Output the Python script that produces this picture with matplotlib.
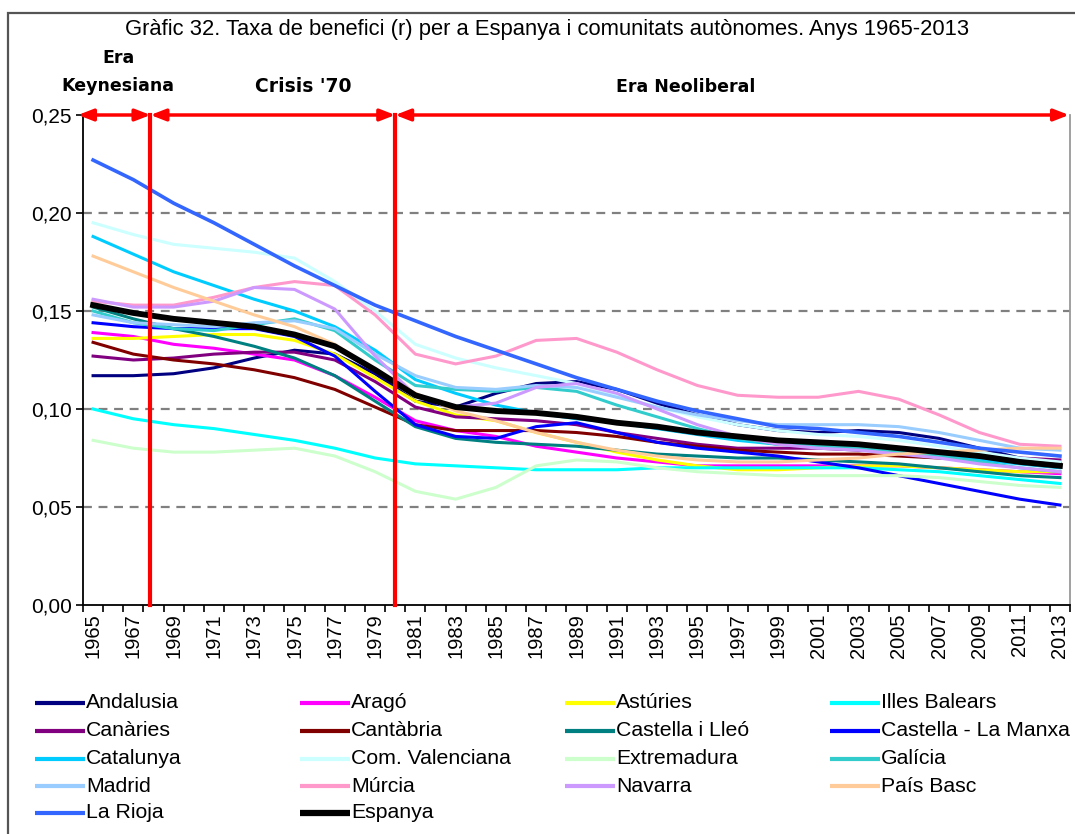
"""Taxa de benefici (r) per a Espanya i comunitats autonomes, 1965-2013."""

import matplotlib

matplotlib.use("Agg")
import matplotlib.pyplot as plt
from matplotlib.lines import Line2D
from matplotlib.patches import Rectangle

plt.rcParams["font.family"] = ["Liberation Sans", "DejaVu Sans"]

YEARS = list(range(1965, 2014, 2))

ANDALUSIA = [.117, .117, .118, .121, .126, .130, .128, .118, .104, .101, .108, .113, .114,
             .110, .103, .097, .092, .089, .088, .089, .088, .085, .080, .075, .072]
ARAGO = [.139, .137, .133, .131, .128, .125, .117, .106, .094, .089, .086, .081, .078,
         .075, .073, .071, .071, .071, .071, .071, .071, .070, .069, .068, .067]
ASTURIES = [.136, .136, .137, .138, .138, .135, .128, .116, .104, .097, .094, .088, .083,
            .078, .074, .071, .069, .069, .070, .071, .071, .070, .069, .068, .068]
BALEARS = [.100, .095, .092, .090, .087, .084, .080, .075, .072, .071, .070, .069, .069,
           .069, .070, .070, .070, .070, .070, .070, .069, .068, .066, .064, .062]
CANARIES = [.127, .125, .126, .128, .129, .129, .125, .114, .101, .096, .095, .094, .092,
            .088, .085, .082, .080, .080, .080, .079, .078, .077, .076, .075, .074]
CANTABRIA = [.134, .128, .125, .123, .120, .116, .110, .101, .092, .089, .089, .089, .088,
             .086, .083, .081, .079, .078, .077, .077, .076, .075, .074, .073, .072]
CAST_LLEO = [.152, .146, .141, .137, .132, .126, .117, .104, .091, .085, .083, .082, .081,
             .079, .077, .076, .075, .075, .074, .073, .072, .070, .068, .066, .065]
CAST_MANXA = [.144, .142, .141, .141, .141, .137, .127, .109, .092, .086, .085, .091, .093,
              .088, .083, .080, .078, .076, .073, .070, .066, .062, .058, .054, .051]
CATALUNYA = [.188, .179, .170, .163, .156, .150, .142, .130, .115, .108, .102, .098, .095,
             .093, .090, .087, .084, .082, .081, .080, .078, .076, .074, .072, .070]
VALENCIANA = [.195, .189, .184, .182, .180, .177, .165, .150, .133, .126, .121, .117, .113,
              .107, .101, .096, .092, .089, .087, .086, .084, .081, .078, .075, .073]
EXTREMADURA = [.084, .080, .078, .078, .079, .080, .076, .068, .058, .054, .060, .071, .074,
               .073, .070, .068, .067, .066, .066, .066, .066, .065, .063, .061, .060]
GALICIA = [.150, .144, .141, .140, .143, .146, .140, .125, .112, .110, .109, .111, .109,
           .102, .096, .090, .085, .082, .081, .080, .078, .076, .073, .070, .068]
MADRID = [.148, .144, .143, .142, .144, .145, .141, .128, .117, .111, .110, .112, .111,
          .106, .101, .097, .094, .092, .092, .092, .091, .088, .084, .080, .079]
MURCIA = [.155, .153, .153, .157, .162, .165, .163, .148, .128, .123, .127, .135, .136,
          .129, .120, .112, .107, .106, .106, .109, .105, .097, .088, .082, .081]
NAVARRA = [.156, .152, .152, .155, .162, .161, .151, .127, .107, .101, .103, .111, .113,
           .108, .100, .092, .086, .082, .080, .079, .077, .075, .072, .070, .068]
PAIS_BASC = [.178, .170, .162, .155, .148, .142, .133, .120, .108, .099, .094, .088, .083,
             .079, .076, .074, .073, .073, .074, .075, .077, .078, .079, .080, .080]
LA_RIOJA = [.227, .217, .205, .195, .184, .173, .163, .153, .145, .137, .130, .123, .116,
            .110, .104, .099, .095, .091, .090, .088, .086, .083, .080, .078, .076]
ESPANYA = [.153, .149, .146, .144, .142, .138, .132, .120, .107, .101, .099, .098, .096,
           .093, .091, .088, .086, .084, .083, .082, .080, .078, .076, .073, .071]

NAMES = ["Andalusia", "Aragó", "Astúries", "Illes Balears", "Canàries", "Cantàbria",
         "Castella i Lleó", "Castella - La Manxa", "Catalunya", "Com. Valenciana",
         "Extremadura", "Galícia", "Madrid", "Múrcia", "Navarra", "País Basc",
         "La Rioja", "Espanya"]
SERIES = [ANDALUSIA, ARAGO, ASTURIES, BALEARS, CANARIES, CANTABRIA, CAST_LLEO, CAST_MANXA,
          CATALUNYA, VALENCIANA, EXTREMADURA, GALICIA, MADRID, MURCIA, NAVARRA, PAIS_BASC,
          LA_RIOJA, ESPANYA]
COLORS = ["#000080", "#FF00FF", "#FFFF00", "#00FFFF", "#800080", "#800000", "#008080",
          "#0000FF", "#00CCFF", "#CCFFFF", "#CCFFCC", "#33CCCC", "#99CCFF", "#FF99CC",
          "#CC99FF", "#FFCC99", "#3366FF", "#000000"]

# era boundaries (in year units) and the arrow span ends
ERA_EDGES = [1964.25, 1967.85, 1980.0, 2013.45]


def main():
    fig = plt.figure(figsize=(10.75, 8.34), dpi=100)
    W, H = 1075, 834
    ax = fig.add_axes([83 / W, 1 - 605 / H, (1070 - 83) / W, 490 / H])

    # outer chart frame
    fig.add_artist(Rectangle((8 / W, -0.1), 1.2, 1.1 - 13 / H, transform=fig.transFigure,
                             fill=False, ec="#555555", lw=1.6))

    for name, vals, col in zip(NAMES, SERIES, COLORS):
        lw = 4.2 if name == "Espanya" else (2.6 if name == "La Rioja" else 2.2)
        ax.plot(YEARS, vals, color=col, lw=lw, solid_joinstyle="round",
                zorder=4 if name == "Espanya" else 3)

    ax.set_xlim(1964.5, 2013.5)
    ax.set_ylim(0, 0.25)
    ax.set_yticks([0, 0.05, 0.10, 0.15, 0.20, 0.25])
    ax.set_yticklabels(["0,00", "0,05", "0,10", "0,15", "0,20", "0,25"])
    ax.set_xticks(YEARS)
    ax.set_xticklabels([str(y) for y in YEARS], rotation=90)
    ax.set_xticks([1964.5 + k for k in range(50)], minor=True)
    ax.tick_params(axis="x", which="major", length=0, pad=6, labelsize=14.5)
    ax.tick_params(axis="x", which="minor", length=5, width=1.2, direction="out")
    ax.tick_params(axis="y", length=5, width=1.2, pad=3, labelsize=15)
    for g in [0.05, 0.10, 0.15, 0.20]:
        ax.axhline(g, color="#808080", lw=1.6, ls=(0, (4, 3)), zorder=1)
    ax.spines["top"].set_visible(False)
    ax.spines["right"].set_color("#999999")
    for s in ["left", "bottom", "right"]:
        ax.spines[s].set_linewidth(1.3)

    # era markers
    for x in ERA_EDGES[1:3]:
        ax.plot([x, x], [0, 0.25], color="#FF0000", lw=3, zorder=6, clip_on=False)
    for a, b in zip(ERA_EDGES[:-1], ERA_EDGES[1:]):
        ax.annotate("", xy=(b, 0.25), xytext=(a, 0.25), xycoords="data",
                    arrowprops=dict(arrowstyle="<|-|>,head_length=0.9,head_width=0.35",
                                    color="#FF0000", lw=2.5, shrinkA=0, shrinkB=0),
                    annotation_clip=False, zorder=7)
    bold = dict(fontweight="bold", family="DejaVu Sans", fontsize=12.5, ha="center")
    fig.text(118 / W, 1 - 58 / H, "Era", va="center", **bold)
    fig.text(118 / W, 1 - 86 / H, "Keynesiana", va="center", **bold)
    fig.text(303 / W, 1 - 87 / H, "Crisis '70", va="center", fontsize=13.5,
             fontweight="bold", family="DejaVu Sans", ha="center")
    fig.text(686 / W, 1 - 87 / H, "Era Neoliberal", va="center", **bold)

    fig.text(547 / W, 1 - 30 / H,
             "Gràfic 32. Taxa de benefici (r) per a Espanya i comunitats autònomes. Anys 1965-2013",
             ha="center", va="center", fontsize=15.8)

    # legend, row-major in four columns
    col_x = [35, 300, 565, 830]
    row_y = [703, 731, 759, 786, 813]
    for i, (name, col) in enumerate(zip(NAMES, COLORS)):
        r, c = divmod(i, 4)
        x0, y0 = col_x[c], row_y[r]
        fig.add_artist(Line2D([x0 / W, (x0 + 50) / W], [1 - y0 / H] * 2, color=col,
                              lw=4.5 if name == "Espanya" else 3, solid_capstyle="butt"))
        fig.text((x0 + 51) / W, 1 - y0 / H, name, va="center", ha="left", fontsize=15.3)

    fig.savefig("out.png", dpi=100, facecolor="white")


if __name__ == "__main__":
    main()
